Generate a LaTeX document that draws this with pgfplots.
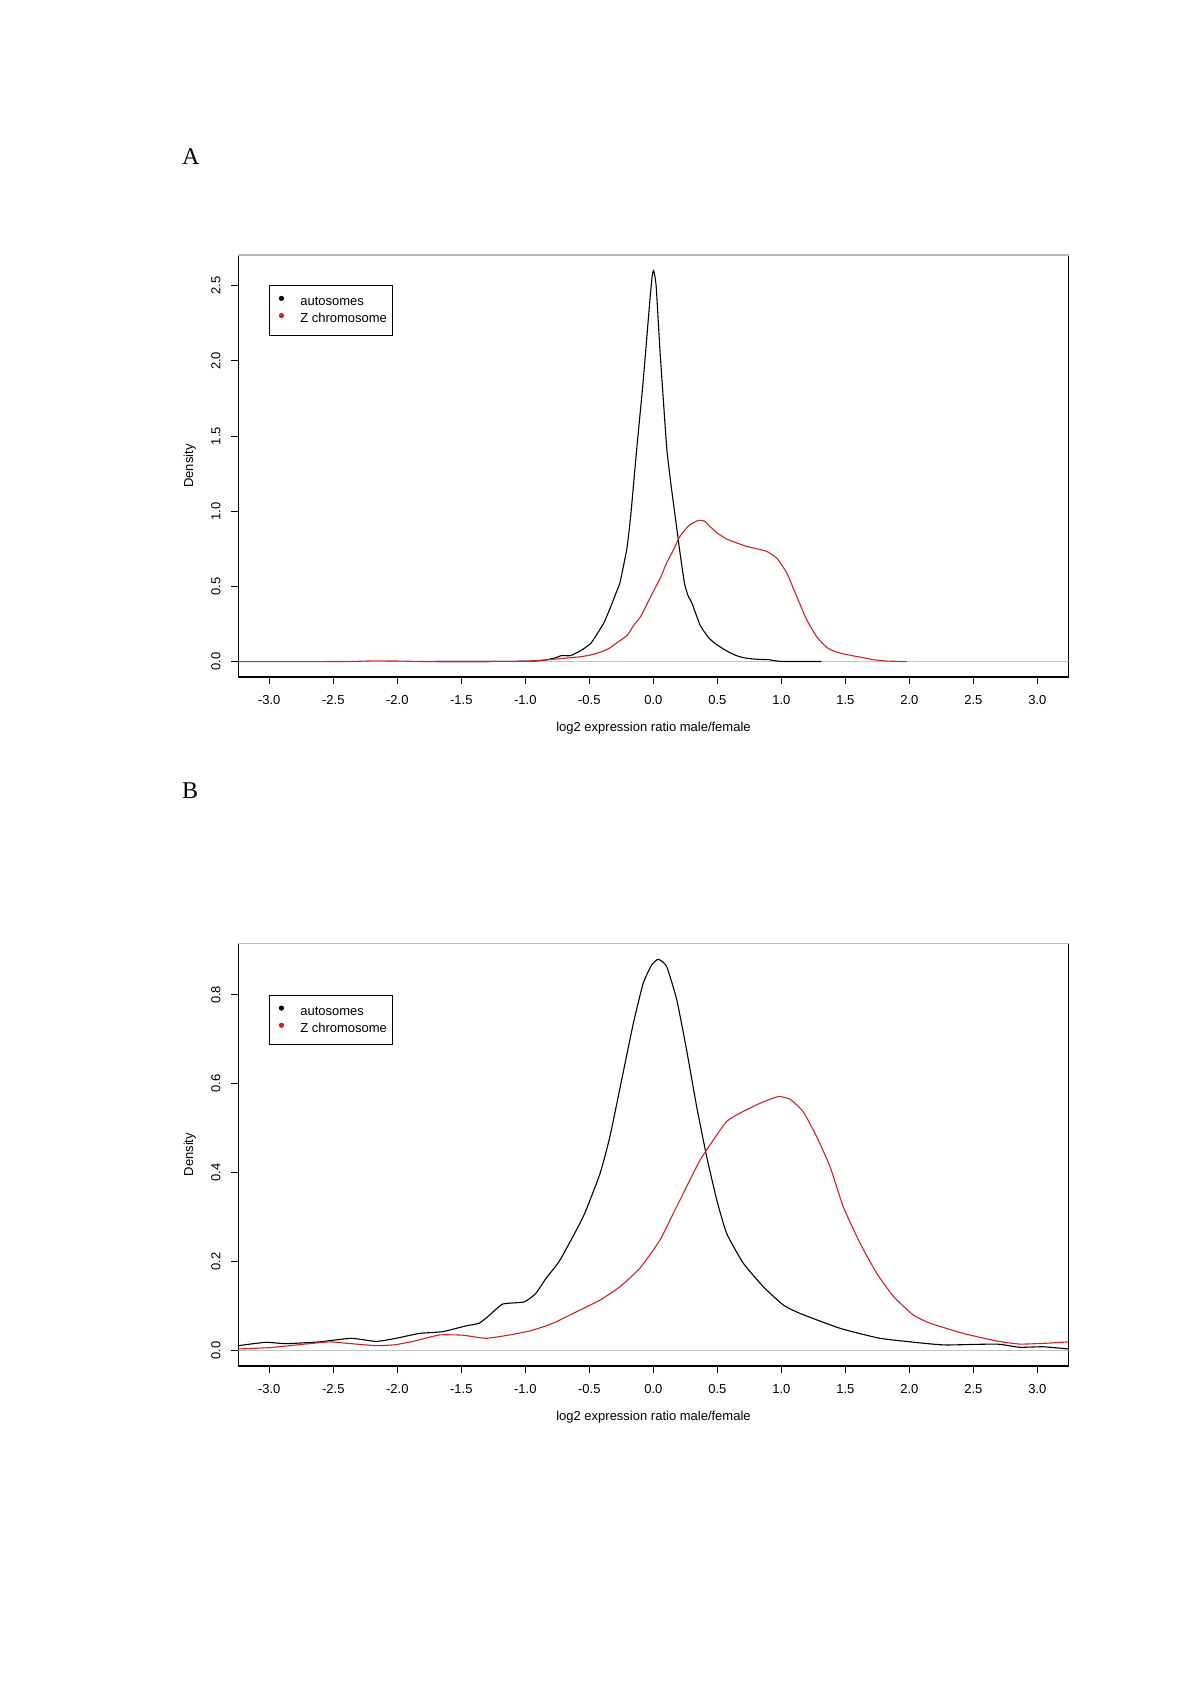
\documentclass[border=0pt]{standalone}
\usepackage{fontspec}
\setmainfont{Liberation Sans}
\newfontfamily\serif{Liberation Serif}
\usepackage{pgfplots}
\pgfplotsset{compat=1.18}
\definecolor{zred}{RGB}{205,35,40}
\definecolor{zline}{RGB}{195,195,195}

\pgfplotsset{rdens/.style={
  scale only axis, width=415.2pt,
  xmin=-3.242, xmax=3.245,
  xtick={-3,-2.5,...,3},
  xticklabels={-3.0,-2.5,-2.0,-1.5,-1.0,-0.5,0.0,0.5,1.0,1.5,2.0,2.5,3.0},
  xtick pos=bottom, ytick pos=left,
  tick align=outside, major tick length=3.6pt,
  tick style={black, line width=0.5pt},
  axis line style={black, line width=0.55pt},
  ticklabel style={font=\fontsize{6.5}{7.8}\selectfont},
  xticklabel style={anchor=base, yshift=-10.15pt},
  yticklabel style={xshift=-5.35pt, rotate=90, anchor=base},
  label style={font=\fontsize{6.5}{7.8}\selectfont},
  xlabel={log2 expression ratio male/female},
  ylabel={Density},
  xlabel style={at={(axis description cs:0.5,0)}, anchor=center, yshift=-25.6pt},
  ylabel style={at={(axis description cs:0,0.5)}, anchor=center, yshift=24.3pt},
  legend cell align=left,
  legend style={at={(0,1)}, anchor=north west, xshift=15.2pt, yshift=-15.15pt,
    draw=black, line width=0.5pt, inner xsep=2.9pt, inner ysep=5pt,
    row sep=2.5pt, column sep=4.1pt, font=\fontsize{6.5}{7.8}\selectfont,
    nodes={inner sep=0pt, text height=4.8pt, text depth=1.3pt}},
  legend image code/.code={\path (0pt,0pt) (8pt,0pt); \fill[##1] (2.95pt,1.75pt) circle (1pt);},
  after end axis/.code={\draw[gray!55, line width=0.6pt] (rel axis cs:0,1) -- (rel axis cs:1,1);},
}}

\begin{document}
\begin{tikzpicture}
\path[use as bounding box] (0,0) rectangle (600pt,849.5pt);

\node[font=\serif\fontsize{12}{14}\selectfont, anchor=base west, inner sep=0pt] at (90.8pt,767pt) {A};
\node[font=\serif\fontsize{12}{14}\selectfont, anchor=base west, inner sep=0pt] at (90.8pt,450pt) {B};

% panel A
\begin{axis}[rdens, at={(119.15pt,511pt)}, anchor=south west, height=211pt,
  ymin=-0.102, ymax=2.704, ytick={0,0.5,...,2.5},
  yticklabels={0.0,0.5,1.0,1.5,2.0,2.5}]
\addplot[zline, line width=0.6pt, forget plot] coordinates {(-3.242,0) (3.245,0)};
\addplot[black, line width=0.55pt, smooth, tension=0.3] coordinates {
(-1.692,0.001) (-1.391,0.001) (-1.089,0.002) (-0.938,0.004) (-0.838,0.012) (-0.767,0.025)
(-0.717,0.04) (-0.647,0.04) (-0.586,0.065) (-0.536,0.09) (-0.486,0.124) (-0.435,0.19)
(-0.385,0.26) (-0.335,0.36) (-0.285,0.47) (-0.261,0.523) (-0.208,0.745) (-0.177,0.966)
(-0.130,1.41) (-0.084,1.82) (-0.059,2.07) (-0.027,2.40) (-0.008,2.57) (0.003,2.60)
(0.022,2.50) (0.052,2.07) (0.080,1.72) (0.106,1.41) (0.136,1.19) (0.171,0.966)
(0.206,0.74) (0.243,0.523) (0.271,0.44) (0.301,0.39) (0.340,0.30) (0.367,0.24)
(0.405,0.19) (0.437,0.155) (0.483,0.12) (0.535,0.091) (0.587,0.065) (0.649,0.04)
(0.718,0.024) (0.809,0.016) (0.900,0.013) (0.960,0.005) (1.011,0.001) (1.312,0.001)};
\addlegendentry{autosomes}
\addplot[zred, line width=0.55pt, smooth, tension=0.3] coordinates {
(-3.242,0.0) (-2.396,0.001) (-2.195,0.005) (-1.994,0.004) (-1.793,0.001) (-1.391,0.001)
(-0.989,0.003) (-0.828,0.012) (-0.677,0.024) (-0.566,0.033) (-0.486,0.045) (-0.415,0.063)
(-0.345,0.088) (-0.285,0.125) (-0.204,0.175) (-0.154,0.24) (-0.099,0.30) (-0.039,0.40)
(0.007,0.478) (0.057,0.56) (0.104,0.656) (0.158,0.745) (0.208,0.833) (0.278,0.905)
(0.352,0.939) (0.399,0.935) (0.442,0.899) (0.500,0.855) (0.573,0.815) (0.650,0.79)
(0.730,0.766) (0.821,0.748) (0.886,0.733) (0.964,0.689) (1.043,0.589) (1.120,0.434)
(1.198,0.279) (1.277,0.165) (1.354,0.095) (1.425,0.065) (1.511,0.047) (1.641,0.026)
(1.726,0.012) (1.827,0.004) (1.980,0.0)};
\addlegendentry{Z chromosome}
\end{axis}

% panel B
\begin{axis}[rdens, at={(119.15pt,166.5pt)}, anchor=south west, height=211.35pt,
  ymin=-0.0353, ymax=0.916, ytick={0,0.2,...,0.8},
  yticklabels={0.0,0.2,0.4,0.6,0.8},
  legend style={yshift=-10.7pt}]
\addplot[zline, line width=0.6pt, forget plot] coordinates {(-3.242,0) (3.245,0)};
\addplot[black, line width=0.55pt, smooth, tension=0.3] coordinates {
(-3.242,0.0104) (-3.030,0.018) (-2.869,0.015) (-2.607,0.019) (-2.362,0.027) (-2.165,0.020)
(-2.010,0.027) (-1.828,0.038) (-1.646,0.042) (-1.463,0.055) (-1.360,0.061) (-1.280,0.079)
(-1.177,0.104) (-1.008,0.109) (-0.918,0.128) (-0.838,0.162) (-0.729,0.203) (-0.547,0.301)
(-0.416,0.398) (-0.339,0.481) (-0.247,0.609) (-0.156,0.736) (-0.079,0.826) (-0.013,0.867)
(0.039,0.880) (0.104,0.864) (0.183,0.789) (0.260,0.676) (0.339,0.548) (0.417,0.436)
(0.496,0.338) (0.573,0.263) (0.703,0.196) (0.860,0.143) (1.015,0.102) (1.146,0.083)
(1.459,0.0495) (1.771,0.027) (2.108,0.016) (2.289,0.012) (2.682,0.014) (2.863,0.0068)
(3.044,0.008) (3.245,0.003)};
\addlegendentry{autosomes}
\addplot[zred, line width=0.55pt, smooth, tension=0.3] coordinates {
(-3.242,0.003) (-2.999,0.006) (-2.738,0.0135) (-2.532,0.019) (-2.401,0.016) (-2.165,0.0105)
(-2.010,0.0128) (-1.854,0.0217) (-1.672,0.0345) (-1.489,0.034) (-1.307,0.027) (-1.125,0.0345)
(-0.968,0.0434) (-0.838,0.055) (-0.760,0.064) (-0.626,0.083) (-0.416,0.113) (-0.261,0.143)
(-0.104,0.185) (0.052,0.248) (0.156,0.308) (0.260,0.368) (0.365,0.428) (0.468,0.473)
(0.573,0.515) (0.678,0.534) (0.834,0.556) (0.976,0.571) (1.068,0.565) (1.171,0.537)
(1.276,0.481) (1.381,0.413) (1.484,0.323) (1.615,0.241) (1.746,0.173) (1.877,0.121)
(2.031,0.0795) (2.162,0.061) (2.422,0.038) (2.682,0.021) (2.863,0.014) (3.074,0.016)
(3.245,0.019)};
\addlegendentry{Z chromosome}
\end{axis}
\end{tikzpicture}
\end{document}
